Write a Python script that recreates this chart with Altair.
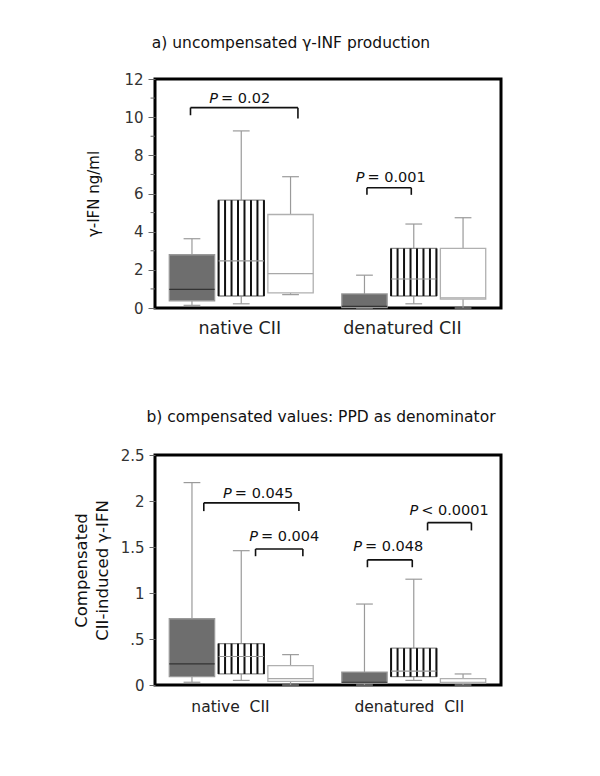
import altair as alt
import pandas as pd

# ---------------- data ----------------
groups = ["native CII", "native CII", "native CII",
          "denatured CII", "denatured CII", "denatured CII"]
patterns = ["dotted", "striped", "open", "dotted", "striped", "open"]
slots = [0, 1, 2, 3.5, 4.5, 5.5]

# panel a: uncompensated gamma-IFN (ng/ml)
a_lo = [0.14, 0.22, 0.70, 0.00, 0.22, 0.00]
a_q1 = [0.38, 0.63, 0.79, 0.02, 0.63, 0.47]
a_med = [0.98, 2.47, 1.80, 0.08, 1.52, 0.53]
a_q3 = [2.79, 5.65, 4.90, 0.74, 3.12, 3.12]
a_hi = [3.63, 9.28, 6.88, 1.72, 4.40, 4.73]
a_major_ticks = [0.0, 2.0, 4.0, 6.0, 8.0, 10.0, 12.0]
a_minor_ticks = [1, 3, 5, 7, 9, 11]

# panel b: compensated values
b_lo = [0.03, 0.05, 0.00, 0.00, 0.05, 0.00]
b_q1 = [0.09, 0.12, 0.04, 0.02, 0.09, 0.02]
b_med = [0.23, 0.31, 0.07, 0.03, 0.15, 0.03]
b_q3 = [0.72, 0.45, 0.21, 0.14, 0.40, 0.07]
b_hi = [2.20, 1.46, 0.33, 0.88, 1.15, 0.12]
b_major_ticks = [0, 0.5, 1, 1.5, 2, 2.5]

# significance brackets: from slot, to slot, bracket level, end levels, label
a_br_from = [-0.03, 3.55]
a_br_to = [2.15, 4.45]
a_br_y = [10.5, 6.3]
a_br_end1 = [10.1, 5.93]
a_br_end2 = [9.93, 5.93]
a_br_tx = [0.55, 3.52]
a_br_ty = [10.95, 6.8]
a_br_text = ["= 0.02", "= 0.001"]

b_br_from = [0.24, 1.29, 3.56, 4.78]
b_br_to = [2.17, 2.25, 4.47, 5.67]
b_br_y = [1.98, 1.478, 1.36, 1.765]
b_br_end1 = [1.89, 1.40, 1.28, 1.68]
b_br_end2 = [1.89, 1.40, 1.28, 1.68]
b_br_tx = [0.83, 1.36, 3.47, 4.61]
b_br_ty = [2.08, 1.61, 1.50, 1.89]
b_br_text = ["= 0.045", "= 0.004", "= 0.048", "< 0.0001"]

FONT = "DejaVu Sans"
HALF = 0.46
CAP = 0.17
MINOR = 0.09
XDOM = [-0.75, 6.27]
pat_dom = ["dotted", "striped", "open"]


def box_layers(lo, q1, med, q3, hi, ydom, yaxis, minor, xlab_vals, xlab_names,
               lab_pad, lab_size,
               br_from, br_to, br_y, br_e1, br_e2, br_tx, br_ty, br_text):
    df = pd.DataFrame(dict(group=groups, pattern=patterns, pos=slots,
                           lo=lo, q1=q1, med=med, q3=q3, hi=hi))
    df["left"] = df["pos"] - HALF
    df["right"] = df["pos"] + HALF
    df["cl"] = df["pos"] - CAP
    df["cr"] = df["pos"] + CAP

    rows = []
    for _, r in df[df["pattern"] == "striped"].iterrows():
        for i in range(8):
            rows.append(dict(hx=r["left"] + i * (2 * HALF / 7), q1=r["q1"], q3=r["q3"]))
    hatch = pd.DataFrame(rows)

    expr = "datum.value < 2 ? '%s' : '%s'" % (xlab_names[0], xlab_names[1])
    xaxis = alt.Axis(values=xlab_vals, labelExpr=expr, ticks=False, domain=False,
                     grid=False, title=None, labelFontSize=lab_size,
                     labelPadding=lab_pad, labelFlush=False, labelOverlap=False,
                     labelColor="#222", labelFont=FONT)
    xs = alt.Scale(domain=XDOM, nice=False, zero=False)
    ys = alt.Scale(domain=ydom, nice=False, zero=True)

    base = alt.Chart(df)
    whisk = base.mark_rule(color="#9a9a9a", strokeWidth=1.2).encode(
        x=alt.X("pos:Q", scale=xs, axis=xaxis),
        y=alt.Y("lo:Q", scale=ys, axis=yaxis),
        y2="hi:Q")
    cap_lo = base.mark_rule(color="#9a9a9a", strokeWidth=1.2).encode(
        x="cl:Q", x2="cr:Q", y="lo:Q")
    cap_hi = base.mark_rule(color="#9a9a9a", strokeWidth=1.2).encode(
        x="cl:Q", x2="cr:Q", y="hi:Q")
    box = base.mark_bar(strokeWidth=1.3).encode(
        x="left:Q", x2="right:Q", y="q1:Q", y2="q3:Q",
        fill=alt.Fill("pattern:N", scale=alt.Scale(domain=pat_dom,
                      range=["#6e6e6e", "#ffffff", "#ffffff"]), legend=None),
        stroke=alt.Stroke("pattern:N", scale=alt.Scale(domain=pat_dom,
                          range=["#999999", "#8a8a8a", "#b0b0b0"]), legend=None))
    hat = alt.Chart(hatch).mark_rule(color="#111", strokeWidth=2).encode(
        x="hx:Q", y="q1:Q", y2="q3:Q")
    med_l = base.mark_rule(strokeWidth=1.2).encode(
        x="left:Q", x2="right:Q", y="med:Q",
        color=alt.Color("pattern:N", scale=alt.Scale(domain=pat_dom,
                        range=["#333333", "#9a9a9a", "#a8a8a8"]), legend=None))

    br = pd.DataFrame(dict(x1=br_from, x2=br_to, y=br_y, e1=br_e1, e2=br_e2,
                           tx=br_tx, ty=br_ty, text=br_text))
    bb = alt.Chart(br)
    h = bb.mark_rule(color="#111", strokeWidth=1.6).encode(x="x1:Q", x2="x2:Q", y="y:Q")
    l1 = bb.mark_rule(color="#111", strokeWidth=1.6).encode(x="x1:Q", y="e1:Q", y2="y:Q")
    l2 = bb.mark_rule(color="#111", strokeWidth=1.6).encode(x="x2:Q", y="e2:Q", y2="y:Q")
    tp = bb.mark_text(align="right", baseline="middle", fontStyle="italic",
                      font=FONT, fontSize=14.5, color="#111", dx=-1).encode(
        x="tx:Q", y="ty:Q", text=alt.value("P"))
    tr = bb.mark_text(align="left", baseline="middle", font=FONT, fontSize=14.5,
                      color="#111", dx=2).encode(x="tx:Q", y="ty:Q", text="text:N")
    layers = [whisk, cap_lo, cap_hi, box, hat, med_l, h, l1, l2, tp, tr]
    if minor:
        mdf = pd.DataFrame(dict(v=minor))
        mdf["x0"] = XDOM[0]
        mdf["x1"] = XDOM[0] - MINOR
        layers.append(alt.Chart(mdf).mark_rule(color="#666", strokeWidth=1).encode(
            x="x0:Q", x2="x1:Q", y="v:Q"))
    return alt.layer(*layers)


yaxis_a = alt.Axis(
    values=a_major_ticks, labelExpr="format(datum.value, 'd')", tickCount=7,
    tickSize=7, tickColor="#666", labelColor="#333", labelFontSize=15, labelFont=FONT,
    labelPadding=5, domain=False, grid=False, labelOverlap=False, labelBound=False,
    labelFlush=False, labelSeparation=0,
    title="γ-IFN ng/ml", titleFontSize=15, titleFont=FONT, titleFontWeight="normal",
    titleColor="#111", titlePadding=22)

yaxis_b = alt.Axis(
    values=b_major_ticks,
    labelExpr="datum.value == 0.5 ? '.5' : format(datum.value, '~g')",
    tickSize=6, tickColor="#666", labelColor="#333", labelFontSize=15, labelFont=FONT,
    labelPadding=5, domain=False, grid=False, labelOverlap=False, labelFlush=False,
    title=["Compensated", "CII-induced γ-IFN"], titleFontSize=16.5, titleFont=FONT,
    titleFontWeight="normal", titleColor="#111", titlePadding=10, titleLineHeight=21)

panel_a = box_layers(a_lo, a_q1, a_med, a_q3, a_hi, [0, 12], yaxis_a, a_minor_ticks,
                     [0.96, 4.26], ["native CII", "denatured CII"], 11, 17.5,
                     a_br_from, a_br_to, a_br_y, a_br_end1, a_br_end2,
                     a_br_tx, a_br_ty, a_br_text).properties(
    width=346, height=229,
    title=alt.TitleParams("a) uncompensated γ-INF production", fontSize=15.5, font=FONT,
                          fontWeight="normal", color="#111", anchor="middle",
                          dx=-37, offset=21))

panel_b = box_layers(b_lo, b_q1, b_med, b_q3, b_hi, [0, 2.5], yaxis_b, None,
                     [0.77, 4.4], ["native\u00a0 CII", "denatured\u00a0 CII"], 14, 15.5,
                     b_br_from, b_br_to, b_br_y, b_br_end1, b_br_end2,
                     b_br_tx, b_br_ty, b_br_text).properties(
    width=346, height=230,
    title=alt.TitleParams("b) compensated values: PPD as denominator", fontSize=15.5,
                          font=FONT, fontWeight="normal", color="#111",
                          anchor="middle", dx=-7, offset=23))

chart = alt.vconcat(panel_a, panel_b, spacing=70).configure(
    padding={"left": 63, "top": 26, "right": 5, "bottom": 5}, background="white"
).configure_view(stroke="black", strokeWidth=3).configure_axis(
    grid=False, labelOverlap=False, labelFlush=False)

chart.save("out.html", embed_options={"renderer": "svg", "actions": False})
